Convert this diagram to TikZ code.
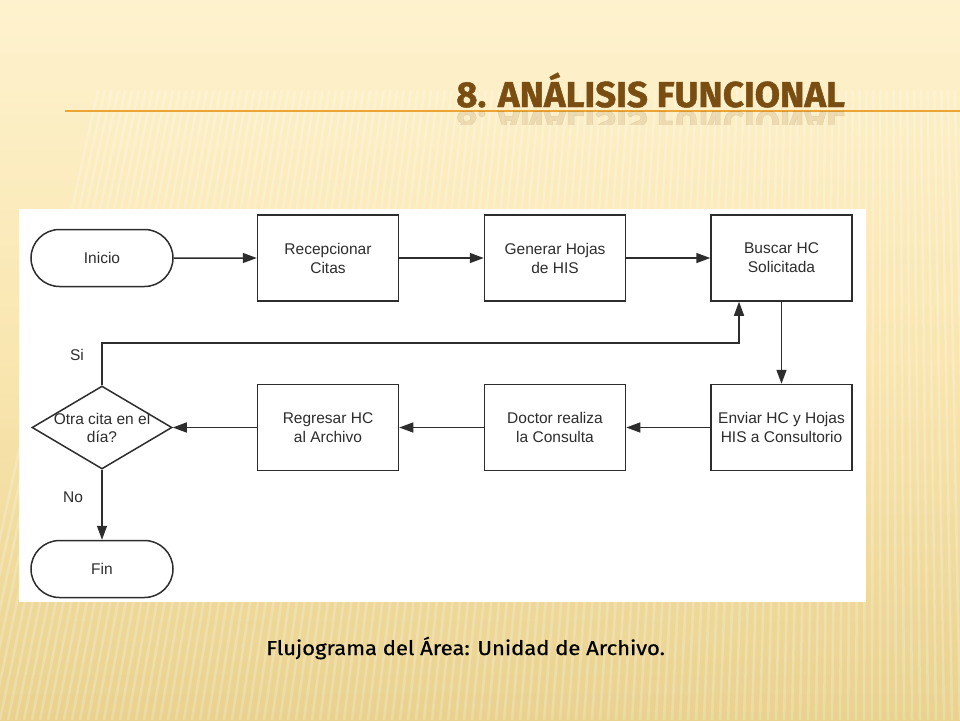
\documentclass[tikz,border=0pt]{standalone}
\usepackage{fontspec}
\setmainfont{Liberation Sans}
\newfontfamily\titlefont[FakeBold=1.2]{Fira Sans}
\newfontfamily\capfont[FakeBold=0.6]{Fira Sans}
\usetikzlibrary{arrows.meta,shapes.geometric,shapes.misc,fadings,calc}
\definecolor{bgtop}{RGB}{254,242,206}
\definecolor{bgmid}{RGB}{249,230,176}
\definecolor{bgbot}{RGB}{233,210,142}
\definecolor{titlebrown}{RGB}{122,78,18}
\definecolor{ruleorange}{RGB}{236,164,52}
\definecolor{ink}{RGB}{45,45,45}
\tikzfading[name=fadetop, top color=transparent!100, bottom color=transparent!0]
\begin{document}
\begin{tikzpicture}[x=1pt,y=-1pt,
  box/.style={draw=ink,line width=1.5pt,fill=white,minimum width=141pt,minimum height=86pt,inner sep=0pt,
    align=center,font=\fontsize{15.5}{19}\selectfont,text=ink},
  term/.style={draw=ink,line width=1.5pt,fill=white,rounded rectangle,minimum width=142pt,minimum height=57pt,inner sep=0pt,
    font=\fontsize{15.5}{19}\selectfont,text=ink},
  decis/.style={draw=ink,line width=1.5pt,fill=white,diamond,minimum width=140pt,minimum height=83pt,inner sep=0pt},
  arr/.style={draw=ink,line width=1.5pt,-{Triangle[length=14pt,width=10pt]}},
  lbl/.style={font=\fontsize{15.5}{19}\selectfont,text=ink}]
\useasboundingbox (0,0) rectangle (960,720);
% background
\shade[top color=bgtop,bottom color=bgbot,middle color=bgmid] (0,0) rectangle (960,720);
\begin{scope}[path fading=fadetop]
  \foreach \i in {-40,-32,...,1000}{
    \draw[white,opacity=0.22,line width=2.5pt] (\i,720) -- ({\i+0.25*(480-\i)*0.6+60},90);
  }
\end{scope}
% title
\draw[ruleorange,line width=1.4pt] (65,111) -- (960,111);
\node[anchor=base west,inner sep=0pt,text=titlebrown,font=\titlefont\bfseries\fontsize{36}{36}\selectfont] (title) at (456,107)
  {\scalebox{1.02}[1]{8. ANÁLISIS FUNCIONAL}};
\begin{scope}
  \clip (440,111.7) rectangle (860,124);
  \node[anchor=base west,inner sep=0pt,text=titlebrown,opacity=0.12,font=\titlefont\bfseries\fontsize{36}{36}\selectfont] (refl) at (456,111)
    {\scalebox{1.02}[-1]{8. ANÁLISIS FUNCIONAL}};
\end{scope}
% white panel
\fill[white] (19,209) rectangle (866,602);
% nodes
\node[term] (ini) at (102,258) {Inicio};
\node[box] (rec) at (328,258) {Recepcionar\\Citas};
\node[box] (gen) at (555,258) {Generar Hojas\\de HIS};
\node[box] (bus) at (781.5,258) {Buscar HC\\Solicitada};
\node[box] (env) at (781.5,427.5) {Enviar HC y Hojas\\HIS a Consultorio};
\node[box] (doc) at (555,427.5) {Doctor realiza\\la Consulta};
\node[box] (reg) at (328,427.5) {Regresar HC\\al Archivo};
\node[decis] (dec) at (102,427.5) {};
\node[align=center,font=\fontsize{15.5}{18}\selectfont,text=ink] (dect) at (102,427.5) {Otra cita en el\\día?};
\node[term] (fin) at (102,569) {Fin};
\coordinate (loopc) at (739,343);
% connectors
\draw[arr] (ini) -- (rec);
\draw[arr] (rec) -- (gen);
\draw[arr] (gen) -- (bus);
\draw[arr] (bus) -- (env);
\draw[arr] (env) -- (doc);
\draw[arr] (doc) -- (reg);
\draw[arr] (reg) -- (dec);
\draw[arr] (dec.south) -- (fin.north);
\draw[arr] (dec.north) |- (loopc) -- (loopc |- bus.south);
\node[lbl] (si) at (77,355) {Si};
\node[lbl] (no) at (73,497) {No};
% caption
\node[anchor=base west,inner sep=0pt,font=\capfont\fontsize{20}{20}\selectfont,text=black] (cap) at (266,655)
  {\scalebox{1.1}[1]{Flujograma del Área: Unidad de Archivo.}};
\end{tikzpicture}
\end{document}
